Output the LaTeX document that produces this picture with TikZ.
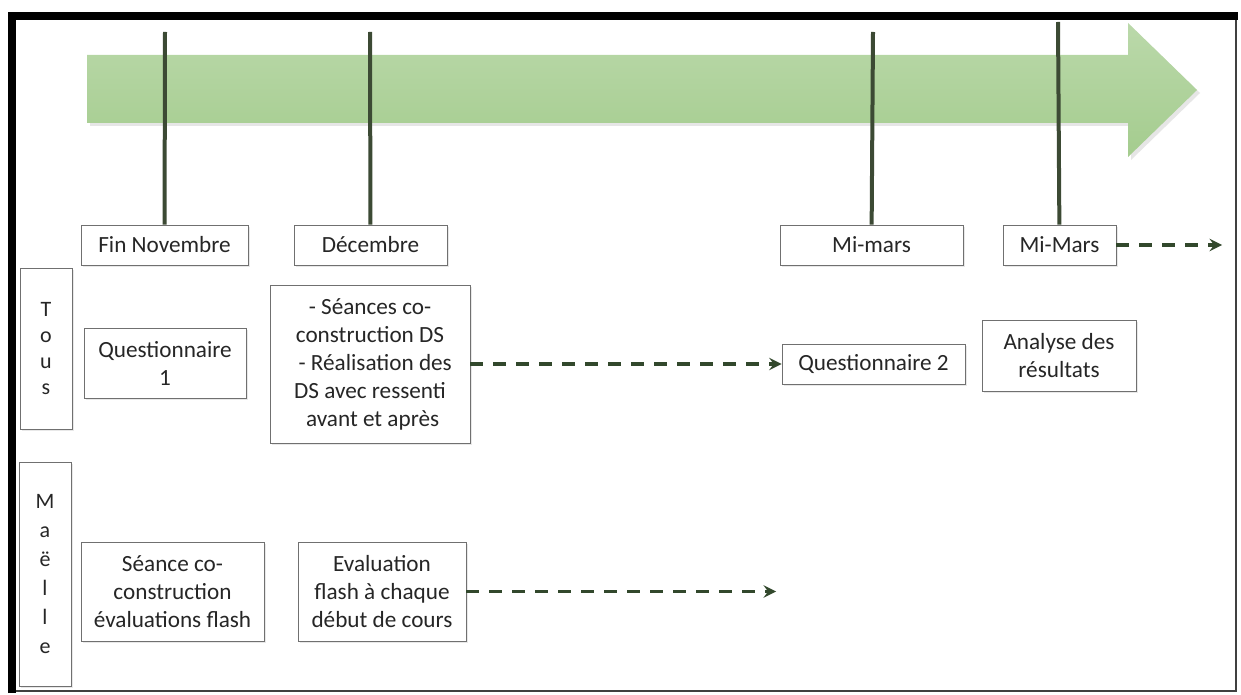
\documentclass[tikz,border=0pt]{standalone}
\usepackage{fontspec}
\setmainfont{Carlito}
\usetikzlibrary{arrows, shadows}

\definecolor{bandgreen}{RGB}{164,204,142}
\definecolor{stemgreen}{RGB}{60,74,52}
\definecolor{dashgreen}{RGB}{50,72,44}
\definecolor{boxgray}{RGB}{112,112,112}

\begin{document}
\begin{tikzpicture}[
                    > = stealth, % arrow head style
                    x = 0.5pt, y = -0.5pt, % one unit per pixel, y going down
                    font = \fontsize{11.6}{14}\selectfont,
                    semithick % line style
            ]

            \tikzstyle{box}=[
                draw = boxgray,
                thin,
                fill = white,
                align = center,
                inner sep = 1pt,
                text = black!85,
                drop shadow = {opacity = 0.18, shadow xshift = 1.2pt, shadow yshift = -1.2pt}
            ]
            \tikzstyle{stem}=[draw = stemgreen, line width = 2pt]
            \tikzstyle{later}=[->, dashgreen, line width = 1.7pt, dash pattern = on 6.5pt off 5pt]

            \useasboundingbox (0,0) rectangle (1241,695);

            % frame
            \draw[line width = 1pt, black!75] (12,16) rectangle (1236,691);
            \draw[line width = 4pt] (12,693) -- (12,16) -- (1238,16);

            % time arrow
            \path[top color = bandgreen!75!white, bottom color = bandgreen,
                  drop shadow = {opacity = 0.2, shadow xshift = 1.5pt, shadow yshift = -1.5pt}]
                (87,55) -- (1128,55) -- (1128,23) -- (1197,90) -- (1128,157)
                -- (1128,123) -- (87,123) -- cycle;

            % dates
            \node[box, minimum width = 83.5pt, minimum height = 20pt] (FinNov) at (164.5,245) {Fin Novembre};
            \node[box, minimum width = 76.5pt, minimum height = 20pt] (Dec) at (370.5,245) {Décembre};
            \node[box, minimum width = 91.5pt, minimum height = 20pt] (MiMars1) at (871.5,245) {Mi-mars};
            \node[box, minimum width = 56.5pt, minimum height = 20pt] (MiMars2) at (1059.5,245) {Mi-Mars};

            \coordinate (T1) at (165,32);
            \coordinate (T2) at (370,32);
            \coordinate (T3) at (873,32);
            \coordinate (T4) at (1058,22);

            \draw[stem] (T1) -- (FinNov);
            \draw[stem] (T2) -- (Dec);
            \draw[stem] (T3) -- (MiMars1);
            \draw[stem] (T4) -- (MiMars2);

            % groups
            \node[box, minimum width = 26pt, minimum height = 80.5pt,
                  font = \fontsize{11}{13}\selectfont] (Tous) at (46,348.5) {T\\o\\u\\s};
            \node[box, minimum width = 26pt, minimum height = 112pt,
                  font = \fontsize{11}{14.5}\selectfont] (Maelle) at (45,574) {M\\a\\ë\\l\\l\\e};

            % everybody
            \node[box, minimum width = 81pt, minimum height = 35pt] (Q1) at (165,363) {Questionnaire\\1};
            \node[box, minimum width = 100pt, minimum height = 79pt] (Seances) at (370,364)
                {- Séances co-\\construction DS\\\ \ - Réalisation des\\DS avec ressenti\\\ avant et après};
            \node[box, minimum width = 91.5pt, minimum height = 20pt] (Q2) at (873.5,364) {Questionnaire 2};
            \node[box, minimum width = 77pt, minimum height = 35.5pt] (Analyse) at (1059,355.5) {Analyse des\\résultats};

            % Maelle only
            \node[box, minimum width = 91.5pt, minimum height = 49.5pt] (SeanceCo) at (172.5,591.5)
                {Séance co-\\construction\\évaluations flash};
            \node[box, minimum width = 84pt, minimum height = 49.5pt] (EvalFlash) at (382,591.5)
                {Evaluation\\flash à chaque\\début de cours};

            \coordinate (E1) at (776,591.5);
            \coordinate (E2) at (1222,245);

            \draw[later] (Seances) -- (Q2);
            \draw[later] (EvalFlash) -- (E1);
            \draw[later] (MiMars2) -- (E2);
        \end{tikzpicture}
\end{document}
